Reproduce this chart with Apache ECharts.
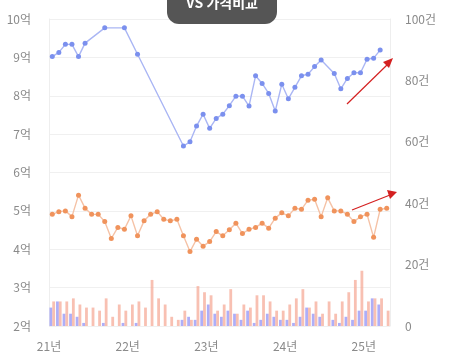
<!DOCTYPE html>
<html><head><meta charset="utf-8">
<script src="https://cdn.jsdelivr.net/npm/echarts@6/dist/echarts.min.js"></script>
<style>html,body{margin:0;padding:0;background:#fff}#c{width:456px;height:364px}</style>
</head><body><div id="c"></div>
<script>
// month index 0 = 2021-01 ... 51 = 2025-04
const startYear = 21;
const yearTicks = ['21년','22년','23년','24년','25년'];
const leftTicks = ['2억','3억','4억','5억','6억','7억','8억','9억','10억'];
const rightTicks = ['0','20건','40건','60건','80건','100건'];
const title = 'VS 가격비교';

// 매매가 (억), null = no trade that month
const salePrice = [9.02,9.13,9.34,9.34,9.02,9.37,null,null,9.77,null,null,9.77,null,9.08,null,null,null,null,null,null,
  6.69,6.80,7.21,7.52,7.15,7.41,7.52,7.74,7.99,7.99,7.73,8.52,8.32,8.06,7.60,8.30,7.92,8.22,8.52,8.56,
  8.76,8.93,null,8.58,8.18,8.45,8.60,8.60,8.95,8.98,9.19,null];
// 전세가 (억)
const rentPrice = [4.91,4.98,5.00,4.85,5.41,5.07,4.91,4.91,4.72,4.28,4.57,4.52,4.87,4.35,4.74,4.91,4.98,4.78,4.74,4.78,
  4.35,3.94,4.26,4.08,4.20,4.46,4.35,4.51,4.68,4.41,4.52,4.57,4.68,4.55,4.81,4.95,4.87,5.07,5.04,5.28,
  5.30,4.85,5.34,5.00,5.00,4.91,4.72,4.85,4.91,4.31,5.04,5.07];
// 매매 거래량 (건)
const saleCount = [6,8,4,4,3,1,null,null,1,null,null,1,null,1,null,null,null,null,null,null,
  2,3,2,5,7,4,3,5,4,2,5,1,2,4,3,2,2,1,3,6,
  4,3,null,2,1,3,2,5,5,9,7,null];
// 전세 거래량 (건)
const rentCount = [8,8,8,9,7,6,6,5,9,3,7,5,7,8,6,15,9,7,3,2,
  5,2,13,11,10,5,7,12,4,7,6,10,10,8,5,5,7,9,12,6,
  8,4,8,4,8,11,15,18,8,9,9,5];

const toPts = arr => arr.map((v,i)=> v==null ? null : [i+0.5, v]).filter(d=>d);
const nMonths = rentPrice.length;

const chart = echarts.init(document.getElementById('c'));
const font = 'Noto Sans CJK KR, Noto Sans, sans-serif';
chart.setOption({
  animation:false,
  grid:{left:49,right:66,top:19,bottom:38},
  xAxis:{type:'value',min:0,max:nMonths,interval:12,
    axisLine:{show:false},axisTick:{show:false},splitLine:{show:false},
    axisLabel:{margin:14,color:'#8a8a8a',fontSize:12,fontFamily:font,
      formatter:v=> (v%12===0 && v/12<yearTicks.length) ? yearTicks[v/12] : ''}},
  yAxis:[
    {type:'value',min:2,max:10,interval:1,
      axisLine:{show:true,lineStyle:{color:'#eeeeee'}},axisTick:{show:false},
      splitLine:{lineStyle:{color:'#f0f0f0'}},
      axisLabel:{margin:18,color:'#8a8a8a',fontSize:12,fontFamily:font,formatter:v=>leftTicks[Math.round(v-2)]}},
    {type:'value',min:0,max:100,interval:20,position:'right',
      axisLine:{show:true,lineStyle:{color:'#eeeeee'}},axisTick:{show:false},
      splitLine:{show:false},
      axisLabel:{margin:15,color:'#8a8a8a',fontSize:12,fontFamily:font,formatter:v=>rightTicks[Math.round(v/20)]}}
  ],
  series:[
    {type:'bar',yAxisIndex:1,data:saleCount.map((v,i)=>[i+0.5, v==null?'-':v]),barWidth:2.8,barGap:'0%',
      itemStyle:{color:'rgba(140,140,245,0.7)'}},
    {type:'bar',yAxisIndex:1,data:rentCount.map((v,i)=>[i+0.5,v]),barWidth:2.8,barGap:'0%',
      itemStyle:{color:'rgba(245,165,145,0.7)'}},
    {type:'line',yAxisIndex:0,data:toPts(salePrice),symbol:'circle',symbolSize:5,
      lineStyle:{color:'#aab6f4',width:1.4},itemStyle:{color:'#7b90ee'}},
    {type:'line',yAxisIndex:0,data:toPts(rentPrice),symbol:'circle',symbolSize:5,
      lineStyle:{color:'#f5c2a6',width:1.4},itemStyle:{color:'#f0935c'}}
  ],
  graphic:[
    {type:'rect',shape:{x:167,y:-14,width:110,height:38,r:12},style:{fill:'#555555'},z:10},
    {type:'text',x:222,y:3,style:{text:title,fill:'#ffffff',font:'bold 14px '+font,align:'center',verticalAlign:'middle'},z:11},
    {type:'line',shape:{x1:347,y1:104,x2:388,y2:64},style:{stroke:'#d42020',lineWidth:1.2},z:12},
    {type:'polygon',shape:{points:[[393,58],[383,62],[389,68]]},style:{fill:'#d42020'},z:12},
    {type:'line',shape:{x1:352,y1:210,x2:390,y2:195},style:{stroke:'#d42020',lineWidth:1.2},z:12},
    {type:'polygon',shape:{points:[[397,192],[387,190],[390,199]]},style:{fill:'#d42020'},z:12}
  ]
});
</script></body></html>
